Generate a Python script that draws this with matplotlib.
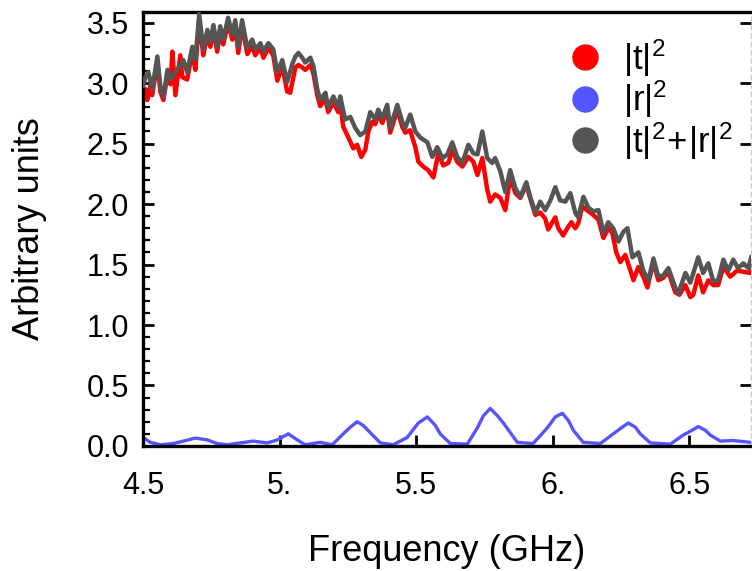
import matplotlib
matplotlib.use("Agg")
import matplotlib.pyplot as plt
from matplotlib.lines import Line2D

plt.rcParams['font.family'] = ['Liberation Sans', 'DejaVu Sans']
plt.rcParams['mathtext.fontset'] = 'custom'
plt.rcParams['mathtext.rm'] = 'Liberation Sans'

# |t|^2 + |r|^2 (gray)
freq_sum = [4.501, 4.509, 4.520, 4.534, 4.553, 4.564, 4.575, 4.590, 4.601, 4.648, 4.662, 4.681,
            4.692, 4.706, 4.721, 4.736, 4.747, 4.758, 4.772, 4.783, 4.794, 4.812, 4.827, 4.838,
            4.849, 4.863, 4.882, 4.900, 4.911, 4.930, 4.941, 4.959, 4.977, 4.992, 5.010, 5.028,
            5.047, 5.058, 5.069, 5.083, 5.094, 5.113, 5.124, 5.138, 5.149, 5.168, 5.178, 5.197,
            5.215, 5.222, 5.240, 5.259, 5.277, 5.295, 5.314, 5.332, 5.350, 5.361, 5.376, 5.394,
            5.405, 5.431, 5.449, 5.460, 5.478, 5.497, 5.515, 5.541, 5.559, 5.577, 5.596, 5.614,
            5.632, 5.650, 5.669, 5.691, 5.709, 5.724, 5.742, 5.760, 5.778, 5.789, 5.808, 5.826,
            5.844, 5.863, 5.881, 5.903, 5.917, 5.936, 5.954, 5.972, 5.991, 6.009, 6.027, 6.046,
            6.064, 6.082, 6.093, 6.112, 6.130, 6.148, 6.167, 6.185, 6.203, 6.221, 6.240, 6.258,
            6.273, 6.291, 6.313, 6.331, 6.350, 6.368, 6.386, 6.404, 6.423, 6.448, 6.459, 6.485,
            6.503, 6.532, 6.550, 6.569, 6.587, 6.605, 6.624, 6.642, 6.660, 6.678, 6.697, 6.715,
            6.726]
total = [2.98, 3.05, 3.09, 2.95, 3.22, 2.97, 2.89, 3.11, 3.03, 3.19, 3.09, 3.30,
         3.19, 3.57, 3.28, 3.44, 3.34, 3.48, 3.30, 3.47, 3.36, 3.54, 3.40, 3.52,
         3.30, 3.52, 3.29, 3.36, 3.28, 3.33, 3.26, 3.33, 3.28, 3.09, 3.19, 3.01,
         3.16, 3.22, 3.25, 3.21, 3.17, 3.21, 3.14, 2.95, 2.86, 2.92, 2.80, 2.89,
         2.80, 2.89, 2.70, 2.72, 2.63, 2.57, 2.60, 2.76, 2.70, 2.78, 2.71, 2.82,
         2.63, 2.82, 2.68, 2.63, 2.74, 2.60, 2.55, 2.51, 2.39, 2.47, 2.38, 2.41,
         2.51, 2.39, 2.34, 2.49, 2.42, 2.41, 2.60, 2.38, 2.34, 2.38, 2.27, 2.10,
         2.28, 2.13, 2.06, 2.18, 2.06, 1.93, 2.02, 1.95, 2.03, 2.14, 2.03, 2.02,
         2.09, 1.93, 1.89, 2.06, 1.97, 1.94, 1.95, 1.76, 1.85, 1.80, 1.69, 1.77,
         1.80, 1.56, 1.60, 1.45, 1.37, 1.55, 1.40, 1.41, 1.47, 1.31, 1.26, 1.43,
         1.35, 1.56, 1.43, 1.51, 1.36, 1.37, 1.54, 1.45, 1.54, 1.47, 1.51, 1.47,
         1.56]

# |t|^2 (red)
freq_t = [4.501, 4.509, 4.516, 4.527, 4.534, 4.553, 4.564, 4.575, 4.590, 4.601, 4.608, 4.619,
          4.637, 4.644, 4.662, 4.681, 4.692, 4.706, 4.721, 4.736, 4.747, 4.758, 4.772, 4.783,
          4.794, 4.812, 4.827, 4.838, 4.849, 4.863, 4.882, 4.900, 4.911, 4.930, 4.941, 4.959,
          4.977, 4.992, 5.010, 5.028, 5.039, 5.058, 5.069, 5.083, 5.094, 5.113, 5.124, 5.138,
          5.149, 5.168, 5.178, 5.197, 5.215, 5.222, 5.233, 5.252, 5.270, 5.284, 5.299, 5.314,
          5.325, 5.339, 5.350, 5.361, 5.376, 5.394, 5.405, 5.431, 5.449, 5.460, 5.478, 5.497,
          5.508, 5.526, 5.544, 5.563, 5.581, 5.599, 5.618, 5.632, 5.650, 5.669, 5.691, 5.709,
          5.724, 5.742, 5.760, 5.771, 5.789, 5.808, 5.826, 5.844, 5.863, 5.881, 5.903, 5.917,
          5.936, 5.954, 5.972, 5.983, 6.009, 6.020, 6.038, 6.053, 6.068, 6.082, 6.093, 6.108,
          6.130, 6.148, 6.167, 6.185, 6.203, 6.218, 6.232, 6.247, 6.265, 6.284, 6.295, 6.313,
          6.331, 6.346, 6.368, 6.386, 6.404, 6.423, 6.448, 6.463, 6.485, 6.503, 6.514, 6.532,
          6.550, 6.569, 6.587, 6.605, 6.624, 6.649, 6.675, 6.697, 6.722, 6.726]
t2 = [2.92, 2.95, 2.86, 2.98, 2.90, 3.17, 2.93, 2.86, 3.07, 2.99, 3.26, 2.90,
      3.23, 3.05, 3.03, 3.26, 3.11, 3.52, 3.23, 3.40, 3.30, 3.44, 3.26, 3.43,
      3.32, 3.50, 3.36, 3.48, 3.25, 3.48, 3.24, 3.31, 3.23, 3.29, 3.21, 3.29,
      3.23, 3.02, 3.14, 2.93, 2.92, 3.13, 3.15, 3.13, 3.11, 3.15, 3.08, 2.90,
      2.81, 2.87, 2.76, 2.84, 2.76, 2.84, 2.64, 2.55, 2.46, 2.49, 2.39, 2.45,
      2.60, 2.68, 2.66, 2.74, 2.67, 2.78, 2.59, 2.78, 2.64, 2.59, 2.61, 2.47,
      2.35, 2.31, 2.28, 2.22, 2.42, 2.32, 2.34, 2.45, 2.35, 2.31, 2.39, 2.35,
      2.24, 2.38, 2.12, 2.02, 2.08, 2.05, 1.95, 2.22, 2.09, 2.05, 2.16, 2.05,
      1.91, 1.93, 1.88, 1.79, 1.89, 1.80, 1.74, 1.80, 1.85, 1.80, 1.84, 1.98,
      1.94, 1.91, 1.87, 1.72, 1.80, 1.76, 1.60, 1.52, 1.58, 1.45, 1.37, 1.48,
      1.40, 1.31, 1.52, 1.37, 1.39, 1.44, 1.27, 1.25, 1.33, 1.23, 1.25, 1.41,
      1.27, 1.37, 1.33, 1.33, 1.48, 1.40, 1.45, 1.44, 1.43, 1.47]

# |r|^2 (blue)
freq_r = [4.501, 4.527, 4.564, 4.611, 4.648, 4.692, 4.736, 4.772, 4.809, 4.856, 4.904, 4.955,
          4.992, 5.032, 5.065, 5.094, 5.149, 5.193, 5.233, 5.259, 5.284, 5.306, 5.332, 5.369,
          5.416, 5.467, 5.508, 5.541, 5.570, 5.588, 5.625, 5.687, 5.724, 5.746, 5.771, 5.797,
          5.819, 5.870, 5.928, 5.980, 6.009, 6.035, 6.057, 6.075, 6.111, 6.174, 6.221, 6.254,
          6.276, 6.302, 6.320, 6.357, 6.430, 6.477, 6.510, 6.532, 6.558, 6.576, 6.613, 6.660,
          6.722, 6.726]
r2 = [0.07, 0.03, 0.01, 0.02, 0.04, 0.065, 0.05, 0.02, 0.01, 0.025, 0.04, 0.025,
      0.05, 0.10, 0.05, 0.01, 0.03, 0.01, 0.10, 0.155, 0.20, 0.17, 0.11, 0.025,
      0.01, 0.07, 0.19, 0.24, 0.17, 0.10, 0.02, 0.015, 0.15, 0.25, 0.31, 0.25,
      0.19, 0.03, 0.02, 0.15, 0.24, 0.27, 0.21, 0.13, 0.03, 0.02, 0.10, 0.155,
      0.19, 0.155, 0.10, 0.025, 0.015, 0.09, 0.13, 0.16, 0.13, 0.09, 0.04, 0.045,
      0.03, 0.03]

x_ticks = [4.5, 5.0, 5.5, 6.0, 6.5]
x_ticklabels = ["4.5", "5.", "5.5", "6.", "6.5"]
y_ticks = [0.0, 0.5, 1.0, 1.5, 2.0, 2.5, 3.0, 3.5]
y_ticklabels = ["0.0", "0.5", "1.0", "1.5", "2.0", "2.5", "3.0", "3.5"]

red = "#ff0000"
blue = "#5555ff"
gray = "#555555"

fig = plt.figure(figsize=(7.52, 5.71), dpi=100)
ax = fig.add_axes([0.190, 0.219, 0.809, 0.760])

ax.plot(freq_t, t2, color=red, lw=3.2, zorder=2)
ax.plot(freq_r, r2, color=blue, lw=2.4, zorder=2)
ax.plot(freq_sum, total, color=gray, lw=3.2, zorder=3)

ax.set_xlim(4.5, 6.726)
ax.set_ylim(0, 3.588)

ax.set_xticks(x_ticks)
ax.set_xticklabels(x_ticklabels)
ax.set_yticks(y_ticks)
ax.set_yticklabels(y_ticklabels)
ax.set_yticks([i / 10 for i in range(36)], minor=True)

ax.tick_params(axis="both", which="major", direction="in", length=8, width=2,
               labelsize=22, colors="black")
ax.tick_params(axis="y", which="major", right=True)
ax.tick_params(axis="y", which="minor", direction="in", length=5, width=1.6, right=False)
ax.tick_params(axis="x", which="major", pad=18)
ax.tick_params(axis="y", which="major", pad=10)

for side in ("left", "bottom", "top"):
    ax.spines[side].set_linewidth(2.4)
ax.spines["right"].set_color("#cccccc")
ax.spines["right"].set_linestyle((0, (3, 3)))
ax.spines["right"].set_linewidth(1)

ax.set_xlabel("Frequency (GHz)", fontsize=26, labelpad=24)
ax.set_ylabel("Arbitrary units", fontsize=26, labelpad=28)

handles = [Line2D([], [], ls="none", marker="o", ms=18, color=c) for c in (red, blue, gray)]
labels = [r"$\mathregular{|t|^2}$", r"$\mathregular{|r|^2}$", r"$\mathregular{|t|^2\!+\!|r|^2}$"]
leg = ax.legend(handles, labels, loc="upper left", bbox_to_anchor=(568 / 752, 1 - 37 / 571),
                bbox_transform=fig.transFigure, frameon=False, fontsize=25,
                handlelength=1.0, handletextpad=0.57, labelspacing=0.0,
                borderpad=0, borderaxespad=0)

fig.savefig("out.png", dpi=100)
